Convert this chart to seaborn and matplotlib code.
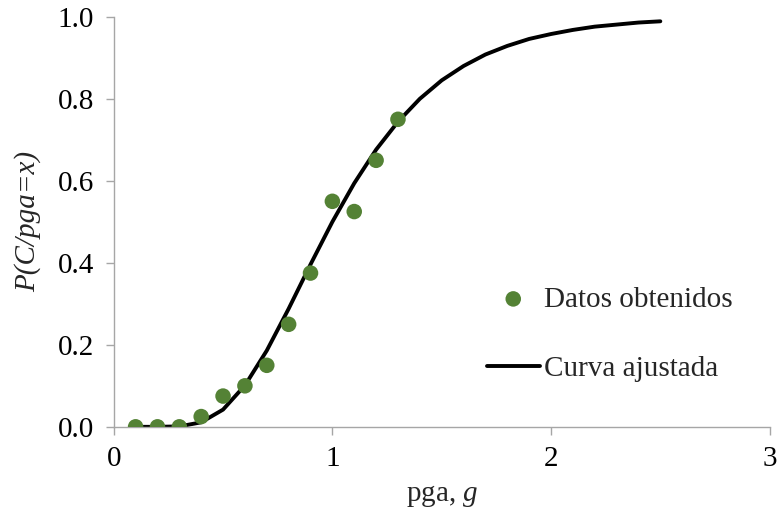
import matplotlib
matplotlib.use("Agg")
import matplotlib.pyplot as plt
import seaborn as sns
import pandas as pd
import numpy as np

# observed points (pga in g, probability)
pga_obs = [0.1, 0.2, 0.3, 0.4, 0.5, 0.6, 0.7, 0.8, 0.9, 1.0, 1.1, 1.2, 1.3]
p_obs = [0.0, 0.0, 0.0, 0.025, 0.075, 0.1, 0.15, 0.25, 0.375, 0.55, 0.525, 0.65, 0.75]

# fitted curve
pga_fit = [0.1, 0.2, 0.3, 0.4, 0.5, 0.6, 0.7, 0.8, 0.9, 1.0, 1.1, 1.2, 1.3,
           1.4, 1.5, 1.6, 1.7, 1.8, 1.9, 2.0, 2.1, 2.2, 2.3, 2.4, 2.5]
p_fit = [0.0, 0.0, 0.001, 0.011, 0.042, 0.101, 0.186, 0.288, 0.396, 0.5, 0.594,
         0.676, 0.744, 0.8, 0.845, 0.88, 0.908, 0.929, 0.946, 0.958, 0.968,
         0.976, 0.981, 0.986, 0.989]

obs_df = pd.DataFrame({"pga": pga_obs, "p": p_obs})
fit_df = pd.DataFrame({"pga": pga_fit, "p": p_fit})

sns.set_theme(style="white")
plt.rcParams["font.family"] = ["Liberation Serif", "DejaVu Serif"]
plt.rcParams["mathtext.fontset"] = "custom"
plt.rcParams["mathtext.rm"] = "Liberation Serif"
plt.rcParams["mathtext.it"] = "Liberation Serif:italic"

fs = 21

fig = plt.figure(figsize=(7.79, 5.25), dpi=100)
ax = fig.add_axes([0.146, 0.187, 0.842, 0.781])

sns.scatterplot(data=obs_df, x="pga", y="p", ax=ax, color="#548235", s=125,
                edgecolor="none", label="Datos obtenidos", zorder=3)
sns.lineplot(data=fit_df, x="pga", y="p", ax=ax, color="black", linewidth=2.8,
             label="Curva ajustada", zorder=2)

ax.set_xlim(0, 3)
ax.set_ylim(0, 1.0)
ax.set_xticks([0, 1, 2, 3])
ax.set_yticks([0.0, 0.2, 0.4, 0.6, 0.8, 1.0])
ax.set_yticklabels(["0.0", "0.2", "0.4", "0.6", "0.8", "1.0"])

for side in ["top", "right"]:
    ax.spines[side].set_visible(False)
for side in ["left", "bottom"]:
    ax.spines[side].set_color("#a6a6a6")
    ax.spines[side].set_linewidth(1.0)

ax.tick_params(axis="both", which="major", direction="out", length=6, width=1,
               color="#a6a6a6", labelsize=fs, labelcolor="black", pad=8,
               left=True, bottom=True)

ax.set_xlabel(r"pga, $\mathit{g}$", fontsize=fs, labelpad=8)
ax.set_ylabel("P(C/pga=x)", fontsize=fs, fontstyle="italic", labelpad=12)

leg = ax.legend(loc="center left", bbox_to_anchor=(487 / 779, 1 - 334 / 525),
                bbox_transform=fig.transFigure, frameon=False, fontsize=fs,
                handlelength=1.8, handletextpad=0.17, labelspacing=1.47,
                borderpad=0, borderaxespad=0, markerscale=1.0)

plt.savefig("out.png", dpi=100)
